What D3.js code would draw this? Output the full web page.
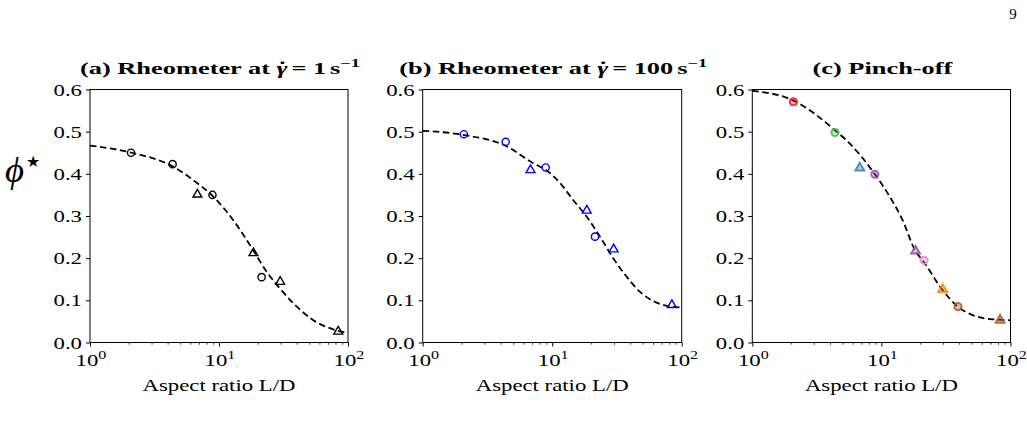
<!DOCTYPE html>
<html><head><meta charset="utf-8">
<script src="https://cdn.jsdelivr.net/npm/d3@7"></script>
<style>body{margin:0;background:#fff} svg{display:block}</style>
</head><body><svg id="chart" width="1027" height="425"></svg>
<script>
// ---------- data ----------
const yTickValues = [0, 0.1, 0.2, 0.3, 0.4, 0.5, 0.6];
const yTickLabels = ["0.0", "0.1", "0.2", "0.3", "0.4", "0.5", "0.6"];
const xMajorTicks = [1, 10, 100];
const xMajorExps = ["0", "1", "2"];
const xMinorTicks = [2, 3, 4, 5, 6, 7, 8, 9, 20, 30, 40, 50, 60, 70, 80, 90];
const titleTexts = ["(a) Rheometer at ", "(b) Rheometer at ", "(c) Pinch-off"];
const titleRates = ["1", "100", null];
const xLabelText = "Aspect ratio L/D";
const pageNumber = "9";

// panel (a) rheometer 1/s
const aCircleX = [2.08, 4.37, 8.9, 21.4];
const aCircleY = [0.450, 0.423, 0.350, 0.155];
const aTriX = [6.8, 18.5, 29.8, 84];
const aTriY = [0.351, 0.212, 0.144, 0.026];
const aCurveX = [1, 2.1, 4.42, 6.32, 9.03, 12.9, 18.4, 23.4, 29.7, 37.7, 53.8, 76.9, 100];
const aCurveY = [0.467, 0.450, 0.417, 0.385, 0.346, 0.290, 0.219, 0.168, 0.128, 0.093, 0.053, 0.031, 0.023];

// panel (b) rheometer 100/s
const bCircleX = [2.08, 4.37, 8.9, 21.4];
const bCircleY = [0.494, 0.476, 0.415, 0.251];
const bTriX = [6.8, 18.5, 29.8, 84];
const bTriY = [0.409, 0.313, 0.221, 0.089];
const bCurveX = [1, 2.1, 4.4, 7.15, 8.96, 11.5, 14.5, 18.5, 23.4, 29.6, 37.6, 47.7, 60.4, 76.6, 100];
const bCurveY = [0.502, 0.492, 0.466, 0.425, 0.409, 0.378, 0.338, 0.298, 0.251, 0.200, 0.156, 0.120, 0.098, 0.087, 0.083];

// panel (c) pinch-off
const cPointX = [2.08, 4.37, 6.8, 8.9, 18.4, 21.4, 29.8, 39.2, 83];
const cPointY = [0.571, 0.498, 0.414, 0.399, 0.217, 0.195, 0.126, 0.085, 0.053];
const cShapes = ["o", "o", "^", "o", "^", "o", "^", "o", "^"];
const cColors = ["#e41a1c", "#4daf4a", "#377eb8", "#984ea3", "#984ea3", "#f781bf", "#ff7f00", "#a65628", "#a65628"];
const cCurveX = [1, 2.07, 4.35, 5.68, 8.85, 11.6, 14.6, 18.2, 21.3, 29.5, 39, 50.9, 72.6, 100];
const cCurveY = [0.597, 0.574, 0.504, 0.472, 0.400, 0.346, 0.290, 0.219, 0.191, 0.126, 0.085, 0.065, 0.055, 0.053];

// ---------- layout ----------
const svg = d3.select("#chart");
const FONT = "'Liberation Serif', 'Times New Roman', serif";
const SX = 1.34;           // horizontal stretch of the reference typography
const plotTop = 89.5, plotBottom = 342.5;
const panelsLayout = [
  {x0: 90, x1: 348},
  {x0: 422.7, x1: 681.7},
  {x0: 752.3, x1: 1010.5}
];

function stretched(g, x, y, anchor, size, sx, weight, style) {
  return g.append("text")
    .attr("transform", `translate(${x},${y}) scale(${sx},1)`)
    .attr("text-anchor", anchor)
    .attr("font-family", FONT)
    .attr("font-size", size)
    .attr("font-weight", weight || "normal")
    .attr("font-style", style || "normal")
    .attr("fill", "#000");
}

const panelData = [
  {
    circles: aCircleX.map((x, i) => ({x, y: aCircleY[i], shape: "o", color: "#000"})),
    tris: aTriX.map((x, i) => ({x, y: aTriY[i], shape: "^", color: "#000"})),
    curve: aCurveX.map((x, i) => ({x, y: aCurveY[i]})),
    style: "open"
  },
  {
    circles: bCircleX.map((x, i) => ({x, y: bCircleY[i], shape: "o", color: "#0000ff"})),
    tris: bTriX.map((x, i) => ({x, y: bTriY[i], shape: "^", color: "#0000ff"})),
    curve: bCurveX.map((x, i) => ({x, y: bCurveY[i]})),
    style: "open"
  },
  {
    circles: [],
    tris: cPointX.map((x, i) => ({x, y: cPointY[i], shape: cShapes[i], color: cColors[i]})),
    curve: cCurveX.map((x, i) => ({x, y: cCurveY[i]})),
    style: "tinted"
  }
];

panelsLayout.forEach((L, p) => {
  const D = panelData[p];
  const x = d3.scaleLog().domain([1, 100]).range([L.x0, L.x1]);
  const y = d3.scaleLinear().domain([0, 0.6]).range([plotBottom, plotTop]);
  const g = svg.append("g");

  // y axis
  const yAxis = d3.axisLeft(y).tickValues(yTickValues).tickFormat("").tickSize(4).tickSizeOuter(0);
  const ya = g.append("g").attr("transform", `translate(${L.x0},0)`).call(yAxis);
  ya.select(".domain").remove();
  ya.selectAll("line").attr("stroke", "#000").attr("stroke-width", 1);
  yTickValues.forEach((v, i) => {
    stretched(g, L.x0 - 8, y(v) + 6, "end", 17, SX).text(yTickLabels[i]);
  });

  // x axis major / minor
  const xAxisMajor = d3.axisBottom(x).tickValues(xMajorTicks).tickFormat("").tickSize(4).tickSizeOuter(0);
  const xa = g.append("g").attr("transform", `translate(0,${plotBottom})`).call(xAxisMajor);
  xa.select(".domain").remove();
  xa.selectAll("line").attr("stroke", "#000").attr("stroke-width", 1);
  const xAxisMinor = d3.axisBottom(x).tickValues(xMinorTicks).tickFormat("").tickSize(2.2).tickSizeOuter(0);
  const xm = g.append("g").attr("transform", `translate(0,${plotBottom})`).call(xAxisMinor);
  xm.select(".domain").remove();
  xm.selectAll("line").attr("stroke", "#000").attr("stroke-width", 0.8);

  xMajorTicks.forEach((v, i) => {
    const t = stretched(g, x(v) + 1, 366, "middle", 17, SX);
    t.append("tspan").text("10");
    t.append("tspan").attr("font-size", 12).attr("dy", -7).text(xMajorExps[i]);
  });

  // x label
  stretched(g, (L.x0 + L.x1) / 2, 391, "middle", 17, SX).text(xLabelText);

  // title
  const tt = stretched(g, (L.x0 + L.x1) / 2 + 1, 73.5, "middle", 16.5, 1.6, "bold");
  tt.append("tspan").text(titleTexts[p]);
  if (titleRates[p] !== null) {
    tt.append("tspan").attr("font-style", "italic").text("\u03B3");
    tt.append("tspan").attr("dx", -6).attr("dy", -1).text("\u02D9");
    tt.append("tspan").attr("dx", 3).attr("dy", 1).text("=");
    tt.append("tspan").attr("dx", 4).text(titleRates[p]);
    tt.append("tspan").attr("dx", 2.5).text("s");
    tt.append("tspan").attr("font-size", 11.5).attr("dy", -6.5).text("\u22121");
  }

  // fitted dashed curve
  const line = d3.line().x(d => x(d.x)).y(d => y(d.y)).curve(d3.curveMonotoneX);
  g.append("path").datum(D.curve).attr("d", line)
    .attr("fill", "none").attr("stroke", "#000").attr("stroke-width", 1.8)
    .attr("stroke-dasharray", "6.5,3.6");

  // markers
  const pts = D.circles.concat(D.tris);
  const tri = d3.symbol().type(d3.symbolTriangle).size(34);
  pts.forEach(d => {
    let m;
    if (d.shape === "o") {
      m = g.append("circle").attr("cx", x(d.x)).attr("cy", y(d.y)).attr("r", 3.6);
    } else {
      m = g.append("path").attr("d", tri).attr("transform", `translate(${x(d.x)},${y(d.y)})`);
    }
    if (D.style === "open") {
      m.attr("fill", "none").attr("stroke", d.color).attr("stroke-width", 1.4);
    } else {
      m.attr("fill", d.color).attr("fill-opacity", 0.35)
       .attr("stroke", d.color).attr("stroke-opacity", 0.85).attr("stroke-width", 2);
    }
  });

  // frame
  g.append("rect").attr("x", L.x0).attr("y", plotTop)
    .attr("width", L.x1 - L.x0).attr("height", plotBottom - plotTop)
    .attr("fill", "none").attr("stroke", "#000").attr("stroke-width", 1);
});

// y label phi*
svg.append("text").attr("transform", "translate(5,182) scale(1.05,1)")
  .attr("font-family", FONT).attr("font-style", "italic").attr("font-size", 35).attr("fill", "#000")
  .text("\u03D5");
svg.append("text").attr("x", 26).attr("y", 167)
  .attr("font-family", "'DejaVu Sans', sans-serif").attr("font-size", 16).attr("fill", "#000").text("\u2605");

// page number
svg.append("text").attr("x", 1013).attr("y", 19).attr("text-anchor", "middle")
  .attr("font-family", FONT).attr("font-size", 15).attr("fill", "#000").text(pageNumber);
</script>
</body></html>
